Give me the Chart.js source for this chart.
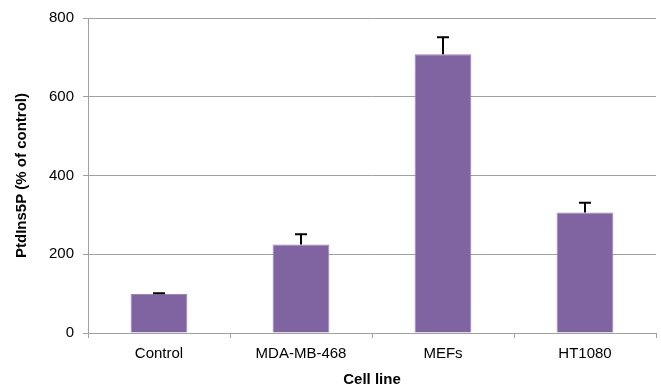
<!DOCTYPE html>
<html>
<head>
<meta charset="utf-8">
<script src="https://cdn.jsdelivr.net/npm/chart.js@4/dist/chart.umd.min.js"></script>
<style>
  html, body { margin: 0; padding: 0; background: #fff; }
  #wrap { width: 661px; height: 389px; }
</style>
</head>
<body>
<div id="wrap"><canvas id="c" width="661" height="389"></canvas></div>
<script>
const categories = ['Control', 'MDA-MB-468', 'MEFs', 'HT1080'];
const values = [99, 225, 708, 306];
const errors = [2, 26, 43, 25];
const yTicks = [0, 200, 400, 600, 800];

const FONT = '"Liberation Sans", Arial, sans-serif';

// Draws upward error bars (stem + cap) from the bar tops
const errorBars = {
  id: 'errorBars',
  afterDatasetsDraw(chart) {
    const ctx = chart.ctx;
    const meta = chart.getDatasetMeta(0);
    const y = chart.scales.y;
    ctx.save();
    ctx.strokeStyle = '#000';
    ctx.lineWidth = 2;
    meta.data.forEach((bar, i) => {
      const x = bar.x;
      const top = y.getPixelForValue(values[i]);
      const end = y.getPixelForValue(values[i] + errors[i]);
      ctx.beginPath();
      ctx.moveTo(x, top);
      ctx.lineTo(x, end);
      ctx.moveTo(x - 6, end);
      ctx.lineTo(x + 6, end);
      ctx.stroke();
    });
    ctx.restore();
  }
};

new Chart(document.getElementById('c'), {
  type: 'bar',
  data: {
    labels: categories,
    datasets: [{
      data: values,
      backgroundColor: '#8064A2',
      borderColor: '#9a85b8',
      borderWidth: 1,
      barPercentage: 0.8,
      categoryPercentage: 0.5
    }]
  },
  options: {
    responsive: false,
    animation: false,
    devicePixelRatio: 1,
    layout: { padding: { top: 17, right: 5, left: 0, bottom: 0 } },
    plugins: {
      legend: { display: false },
      tooltip: { enabled: false }
    },
    scales: {
      x: {
        grid: {
          display: true,
          drawOnChartArea: false,
          drawTicks: true,
          tickLength: 5,
          color: '#a0a0a0',
          lineWidth: 1
        },
        border: { display: true, color: '#a0a0a0', width: 1 },
        ticks: {
          color: '#000',
          font: { family: FONT, size: 15 },
          padding: 7
        },
        title: {
          display: true,
          text: 'Cell line',
          color: '#000',
          font: { family: FONT, size: 15, weight: 'bold' },
          padding: { top: 4, bottom: 0 }
        },
        afterFit(scale) { scale.height = 56; }
      },
      y: {
        min: 0,
        max: 800,
        afterBuildTicks(scale) { scale.ticks = yTicks.map(v => ({ value: v })); },
        grid: {
          color: '#a0a0a0',
          lineWidth: 1,
          drawTicks: true,
          tickLength: 5
        },
        border: { display: true, color: '#a0a0a0', width: 1 },
        ticks: {
          color: '#000',
          font: { family: FONT, size: 15 },
          padding: 9
        },
        title: {
          display: true,
          text: 'PtdIns5P (% of control)',
          color: '#000',
          font: { family: FONT, size: 15, weight: 'bold' },
          padding: { top: 13, bottom: 0 }
        },
        afterFit(scale) { scale.width = 88; }
      }
    }
  },
  plugins: [errorBars]
});
</script>
</body>
</html>
